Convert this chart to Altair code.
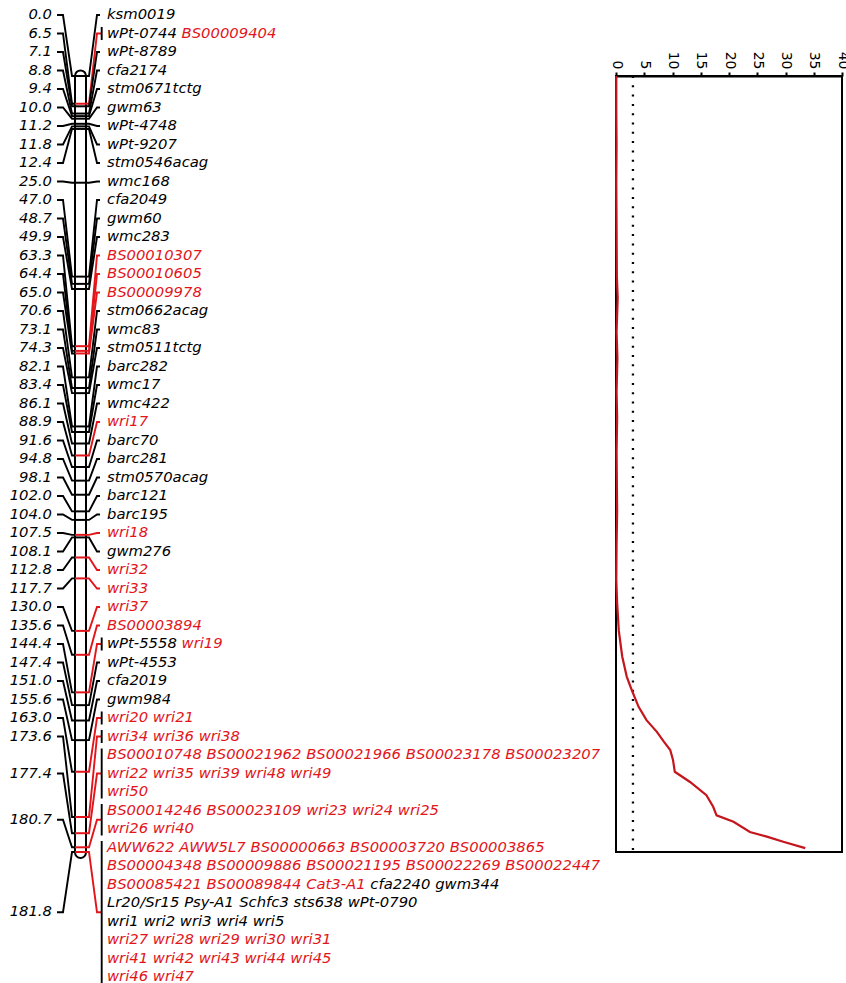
import altair as alt
import pandas as pd

# ---- genetic map: locus positions (cM) and the markers placed at each locus ----
locus_cm = [0.0, 6.5, 7.1, 8.8, 9.4, 10.0, 11.2, 11.8, 12.4, 25.0, 47.0, 48.7, 49.9,
            63.3, 64.4, 65.0, 70.6, 73.1, 74.3, 82.1, 83.4, 86.1, 88.9, 91.6, 94.8,
            98.1, 102.0, 104.0, 107.5, 108.1, 112.8, 117.7, 130.0, 135.6, 144.4,
            147.4, 151.0, 155.6, 163.0, 173.6, 177.4, 180.7, 181.8]

locus_markers = [
    "ksm0019", "wPt-0744 BS00009404", "wPt-8789", "cfa2174", "stm0671tctg",
    "gwm63", "wPt-4748", "wPt-9207", "stm0546acag", "wmc168", "cfa2049",
    "gwm60", "wmc283", "BS00010307", "BS00010605", "BS00009978",
    "stm0662acag", "wmc83", "stm0511tctg", "barc282", "wmc17", "wmc422",
    "wri17", "barc70", "barc281", "stm0570acag", "barc121", "barc195",
    "wri18", "gwm276", "wri32", "wri33", "wri37", "BS00003894",
    "wPt-5558 wri19", "wPt-4553", "cfa2019", "gwm984", "wri20 wri21",
    "wri34 wri36 wri38",
    "BS00010748 BS00021962 BS00021966 BS00023178 BS00023207 "
    "wri22 wri35 wri39 wri48 wri49 wri50",
    "BS00014246 BS00023109 wri23 wri24 wri25 wri26 wri40",
    "AWW622 AWW5L7 BS00000663 BS00003720 BS00003865 "
    "BS00004348 BS00009886 BS00021195 BS00022269 BS00022447 "
    "BS00085421 BS00089844 Cat3-A1 cfa2240 gwm344 "
    "Lr20/Sr15 Psy-A1 Schfc3 sts638 wPt-0790 "
    "wri1 wri2 wri3 wri4 wri5 wri27 wri28 wri29 wri30 wri31 "
    "wri41 wri42 wri43 wri44 wri45 wri46 wri47",
]

# markers highlighted in red
trait_markers = (
    "BS00009404 BS00010307 BS00010605 BS00009978 wri17 wri18 wri32 wri33 wri37 "
    "BS00003894 wri19 wri20 wri21 wri34 wri36 wri38 "
    "BS00010748 BS00021962 BS00021966 BS00023178 BS00023207 wri22 wri35 wri39 "
    "wri48 wri49 wri50 BS00014246 BS00023109 wri23 wri24 wri25 wri26 wri40 "
    "AWW622 AWW5L7 BS00000663 BS00003720 BS00003865 BS00004348 BS00009886 "
    "BS00021195 BS00022269 BS00022447 BS00085421 BS00089844 Cat3-A1 "
    "wri27 wri28 wri29 wri30 wri31 wri41 wri42 wri43 wri44 wri45 wri46 wri47"
).split()

# ---- LOD profile along the chromosome ----
lod_cm = [0, 8, 16, 25, 35, 47, 52, 60, 66, 74, 80, 88, 95, 102, 110, 118,
          123.5, 130, 136, 140.7, 143.9, 147.8, 150.9, 153.6, 156, 157.9,
          160.3, 163.0, 165.4, 168.5, 171.2, 173.2, 174.7, 177.1, 178.2,
          179.4, 180.9]
lod_score = [0.05, 0.05, 0.1, 0.05, 0.1, 0.15, 0.3, 0.1, 0.25, 0.1, 0.2, 0.1,
             0.15, 0.2, 0.1, 0.05, 0.2, 0.5, 1.1, 1.9, 2.8, 4.0, 5.4, 7.2, 8.5,
             9.6, 10.1, 10.4, 13.1, 16.0, 17.2, 17.8, 20.8, 23.7, 26.7, 29.6,
             33.5]
lod_threshold = 3.0
lod_ticks = [0, 5, 10, 15, 20, 25, 30, 35, 40]

# ---- layout ----
MAP_LEN_CM = 181.8
PLOT_H = 776
TOP_PAD, BOTTOM_PAD = 76, 131
W = 846
ROW0_PX, ROW_STEP_PX = 15, 18.5
PER_LINE = 5
FONT = "DejaVu Sans"
FS = 14.8
RED_TEXT = "#d3262b"
RED_LINE = "#e2151b"
RED_CURVE = "#c4161c"

CHR_L, CHR_R = 75, 86
cm_per_px = MAP_LEN_CM / PLOT_H


def row_cm(r):
    return (ROW0_PX + ROW_STEP_PX * r - TOP_PAD) * cm_per_px


def px_cm(d):
    return d * cm_per_px


# DejaVu Sans advance widths (units per em = 2048)
ADV = {" ": 651, "-": 739, "/": 690, "A": 1401, "B": 1405, "C": 1430,
       "L": 1141, "P": 1235, "S": 1300, "W": 2025, "a": 1255, "b": 1300,
       "c": 1126, "f": 721, "g": 1300, "h": 1298, "i": 569, "k": 1186,
       "l": 569, "m": 1995, "r": 842, "s": 1067, "t": 803, "w": 1675,
       "y": 1212}
for d in "0123456789":
    ADV[d] = 1303


def text_w(s):
    return sum(ADV.get(c, 1250) for c in s) / 2048 * FS


trait_set = set(trait_markers)
leaders, tokens, cm_labels, bars, bands = [], [], [], [], []
row = 0
for i, (cm, names_str) in enumerate(zip(locus_cm, locus_markers)):
    names = names_str.split()
    lines = [names[j:j + PER_LINE] for j in range(0, len(names), PER_LINE)]
    first, last = row, row + len(lines) - 1
    row += len(lines)
    y_lab = row_cm((first + last) / 2)
    kind = "trait" if any(n in trait_set for n in names) else "other"
    multi = len(names) > 1
    bands.append(dict(y=cm, kind=kind))
    cm_labels.append(dict(x=52, y=y_lab, text=f"{cm:.1f}"))
    for k, (x, y) in enumerate([(57, y_lab), (63, y_lab), (72, cm), (CHR_L, cm)]):
        leaders.append(dict(id=f"L{i}", o=k, x=x, y=y, kind="other"))
    end_x = 101.7 if multi else 100
    for k, (x, y) in enumerate([(CHR_R, cm), (89, cm), (97, y_lab), (end_x, y_lab)]):
        leaders.append(dict(id=f"R{i}", o=k, x=x, y=y, kind=kind))
    if multi:
        bars.append(dict(x=101.7, y=row_cm(first) - px_cm(6.5),
                         y2=row_cm(last) + px_cm(6.5)))
    for li, line in enumerate(lines):
        x = 107
        for n in line:
            tokens.append(dict(x=x, y=row_cm(first + li), text=n,
                               kind="trait" if n in trait_set else "other"))
            x += text_w(n + " ")

px_scale = alt.Scale(domain=[0, W], range=[0, W], nice=False, zero=False)
y_scale = alt.Scale(domain=[0, MAP_LEN_CM], reverse=True, nice=False, zero=False)
lod_scale = alt.Scale(domain=[0, 40], range=[616, 842], nice=False, zero=False)

X = lambda f: alt.X(f, type="quantitative", scale=px_scale, axis=None)
Y = lambda f: alt.Y(f, type="quantitative", scale=y_scale, axis=None)
line_color = alt.Color("kind:N", scale=alt.Scale(domain=["other", "trait"],
                                                 range=["black", RED_LINE]), legend=None)
text_color = alt.Color("kind:N", scale=alt.Scale(domain=["other", "trait"],
                                                 range=["black", RED_TEXT]), legend=None)

chromosome = alt.Chart(pd.DataFrame([dict(x=CHR_L, x2=CHR_R, y=-1.3, y2=MAP_LEN_CM + 1.4)])).mark_rect(
    fill="white", stroke="black", strokeWidth=2, cornerRadius=5.5
).encode(x=X("x"), x2="x2", y=Y("y"), y2="y2")

band_df = pd.DataFrame(bands)
band_df["x"], band_df["x2"] = CHR_L, CHR_R
band_layer = alt.Chart(band_df).mark_rule(strokeWidth=2).encode(
    x=X("x"), x2="x2", y=Y("y"), color=line_color)

leader_layer = alt.Chart(pd.DataFrame(leaders)).mark_line(strokeWidth=1.9).encode(
    x=X("x"), y=Y("y"), detail="id:N", order="o:Q", color=line_color)

bar_layer = alt.Chart(pd.DataFrame(bars)).mark_rule(strokeWidth=1.9, color="black").encode(
    x=X("x"), y=Y("y"), y2="y2")

cm_text = alt.Chart(pd.DataFrame(cm_labels)).mark_text(
    align="right", baseline="middle", font=FONT, fontSize=FS, fontStyle="italic", color="black"
).encode(x=X("x"), y=Y("y"), text="text:N")

marker_text = alt.Chart(pd.DataFrame(tokens)).mark_text(
    align="left", baseline="middle", font=FONT, fontSize=FS, fontStyle="italic"
).encode(x=X("x"), y=Y("y"), text="text:N", color=text_color)

frame = alt.Chart(pd.DataFrame([dict(x=0, x2=40, y=0, y2=MAP_LEN_CM)])).mark_rect(
    fillOpacity=0, stroke="black", strokeWidth=2
).encode(
    x=alt.X("x:Q", scale=lod_scale, axis=alt.Axis(
        orient="top", values=lod_ticks, labelAngle=90, labelAlign="right",
        labelBaseline="middle", tickSize=4, tickWidth=2, tickColor="black",
        labelPadding=3, labelFont=FONT, labelFontSize=14, labelColor="black",
        domain=True, domainColor="black", domainWidth=2, grid=False, title=None,
        labelFlush=False, labelOverlap=False)),
    x2="x2", y=Y("y"), y2="y2")

threshold = alt.Chart(pd.DataFrame([dict(x=lod_threshold, y=0, y2=MAP_LEN_CM)])).mark_rule(
    color="black", strokeWidth=2.3, strokeDash=[2, 7.3]
).encode(x=alt.X("x:Q", scale=lod_scale, axis=None), y=Y("y"), y2="y2")

curve = alt.Chart(pd.DataFrame({"cm": lod_cm, "lod": lod_score})).mark_line(
    color=RED_CURVE, strokeWidth=2.2
).encode(x=alt.X("lod:Q", scale=lod_scale, axis=None), y=Y("cm"), order="cm:Q")

chart = alt.layer(
    chromosome, band_layer, leader_layer, bar_layer, cm_text, marker_text,
    frame, threshold, curve
).resolve_scale(x="independent").properties(
    width=W, height=PLOT_H, background="white",
    padding={"left": 0, "top": TOP_PAD, "right": 0, "bottom": BOTTOM_PAD},
    autosize=alt.AutoSizeParams(type="none"),
).configure_view(stroke=None, strokeWidth=0)

chart.save("out.html", embed_options={"renderer": "svg", "actions": False})
